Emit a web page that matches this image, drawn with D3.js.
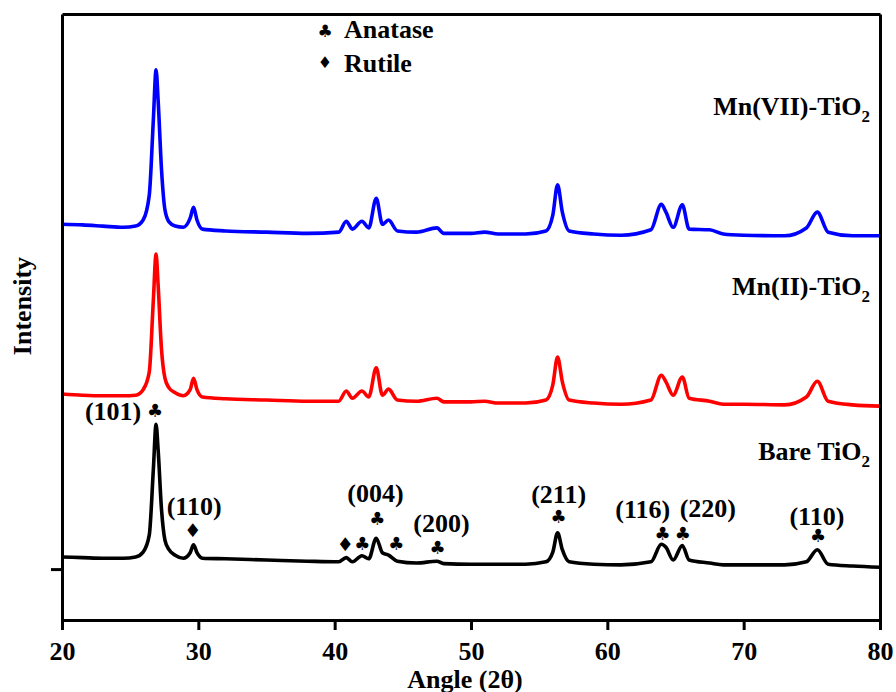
<!DOCTYPE html>
<html>
<head>
<meta charset="utf-8">
<script src="https://cdn.jsdelivr.net/npm/d3@7"></script>
<style>
  body { margin: 0; background: #fff; }
  text { font-family: "Liberation Serif", "Times New Roman", serif; font-weight: bold; }
</style>
</head>
<body>
<svg id="drawing_region"></svg>
<script>
var width = 896;
var height = 692;
var margin = {top:14, right:16, bottom:72, left:62};

// 2theta positions shared by the three patterns
const angles = [20.0, 21.5, 23.0, 24.5, 25.4, 25.95, 26.4, 26.7, 26.9, 27.05,
  27.3, 27.55, 27.85, 28.3, 28.9, 29.4, 29.65, 29.9, 30.3, 32,
  35, 38, 40.3, 40.85, 41.3, 42.0, 42.5, 43.05, 43.5, 43.95,
  44.6, 46, 47.5, 48, 50, 51, 52, 54, 55.5, 56.0,
  56.35, 56.7, 57.2, 59, 61, 63.2, 63.96, 64.3, 64.83, 65.5,
  66.0, 67.5, 68.5, 70, 73, 74.6, 75.4, 76.2, 78, 80];

// intensities (a.u., already stacked)
const bareTiO2 = [104, 103, 102, 102, 104, 112, 140, 248, 323, 281,
  182, 132, 116, 107, 102, 111, 124, 111, 102, 101,
  99, 97, 96, 103, 96, 106, 101, 135, 111, 107,
  97, 94, 97, 93, 92, 92, 92, 92, 96, 112,
  144, 116, 96, 92, 91, 96, 125, 120, 99, 123,
  99, 94, 91, 91, 91, 96, 116, 92, 89, 87];

const mn2TiO2 = [373, 371, 370, 370, 371, 380, 409, 528, 604, 553,
  446, 399, 383, 375, 370, 380, 399, 380, 368, 365,
  363, 361, 361, 378, 366, 378, 368, 416, 371, 381,
  363, 361, 366, 360, 360, 361, 358, 358, 363, 388,
  434, 393, 363, 358, 356, 363, 404, 393, 371, 401,
  366, 361, 356, 356, 355, 368, 394, 361, 355, 353];

const mn7TiO2 = [653, 652, 650, 648, 650, 660, 701, 825, 908, 858,
  743, 677, 657, 650, 648, 663, 681, 660, 645, 642,
  640, 638, 640, 658, 645, 658, 647, 696, 653, 660,
  642, 640, 647, 638, 638, 640, 637, 637, 642, 668,
  718, 673, 642, 637, 635, 644, 686, 673, 648, 685,
  645, 644, 637, 635, 634, 647, 673, 640, 634, 634];

const seriesNames = ["Bare TiO", "Mn(II)-TiO", "Mn(VII)-TiO"];
const seriesColors = ["#000000", "#ff0000", "#0000ff"];
const xTicks = [20, 30, 40, 50, 60, 70, 80];

// phase markers on the bare pattern: [phase, angle, intensity]
const markers = [
  ["A", 26.83, 345], ["R", 29.6, 149], ["R", 40.78, 125], ["A", 42.03, 127],
  ["A", 43.13, 167], ["A", 44.53, 127], ["A", 47.54, 119], ["A", 56.43, 170],
  ["A", 64.06, 142], ["A", 65.53, 142], ["A", 75.45, 139]
];
// plane labels: [hkl, angle, intensity]
const planes = [
  ["(101)", 23.75, 330], ["(110)", 29.69, 173], ["(004)", 42.99, 195],
  ["(200)", 47.83, 145], ["(211)", 56.43, 193], ["(116)", 62.6, 168],
  ["(220)", 67.37, 170], ["(110)", 75.37, 157]
];

var svg = d3.select('#drawing_region')
      .attr('width', width)
      .attr('height', height);

var chart = svg.append('g')
      .attr('transform', `translate(${margin.left}, ${margin.top})`);

const innerWidth = width - margin.left - margin.right;
const innerHeight = height - margin.top - margin.bottom;

const xscale = d3.scaleLinear().domain([20, 80]).range([0, innerWidth]);
const yscale = d3.scaleLinear().domain([0, 1000]).range([innerHeight, 0]);

const line = d3.line()
      .x((d, i) => xscale(angles[i]))
      .y(d => yscale(d))
      .curve(d3.curveMonotoneX);

[bareTiO2, mn2TiO2, mn7TiO2].forEach((s, k) => {
  chart.append('path')
        .attr('d', line(s))
        .attr('stroke', seriesColors[k])
        .attr('stroke-width', 3.6)
        .attr('stroke-linejoin', 'round')
        .attr('fill', 'none');
});

// axes + frame
const xAxis = d3.axisBottom(xscale).tickValues(xTicks).tickFormat(d3.format('d'))
      .tickSize(10).tickSizeOuter(0).tickPadding(12);
const yAxis = d3.axisLeft(yscale).tickValues([84]).tickFormat('')
      .tickSize(11).tickSizeOuter(0);

const gx = chart.append('g').attr('transform', `translate(0, ${innerHeight})`).call(xAxis);
const gy = chart.append('g').call(yAxis);
chart.append('g').call(d3.axisTop(xscale).tickValues([]).tickSizeOuter(0));
chart.append('g').attr('transform', `translate(${innerWidth}, 0)`)
      .call(d3.axisRight(yscale).tickValues([]).tickSizeOuter(0));

chart.selectAll('.domain').attr('stroke-width', 3).attr('stroke', '#000');
chart.selectAll('.tick line').attr('stroke-width', 3).attr('stroke', '#000');
gx.selectAll('text').attr('font-size', 26).attr('fill', '#000')
      .style('font-family', '"Liberation Serif", serif').style('font-weight', 'bold');

svg.append('text')
      .attr('x', margin.left + xscale(50) - 6)
      .attr('y', 688)
      .attr('text-anchor', 'middle')
      .attr('font-size', 26)
      .text('Angle (2θ)');

svg.append('text')
      .attr('transform', 'translate(31, 306) rotate(-90)')
      .attr('text-anchor', 'middle')
      .attr('font-size', 26)
      .text('Intensity');

// series labels
const labelY = [460, 295, 115];
seriesNames.forEach((n, k) => {
  const t = svg.append('text')
        .attr('x', 870)
        .attr('y', labelY[k])
        .attr('text-anchor', 'end')
        .attr('font-size', 26);
  t.append('tspan').text(n);
  t.append('tspan').attr('font-size', 17).attr('dy', 7).text('2');
});

// legend
const legend = svg.append('g');
legend.append('text').attr('x', 325).attr('y', 31).attr('text-anchor', 'middle')
      .attr('dominant-baseline', 'central')
      .style('font-family', '"DejaVu Sans", sans-serif').attr('font-size', 17).text('\u2663');
legend.append('text').attr('x', 325).attr('y', 62).attr('text-anchor', 'middle')
      .attr('dominant-baseline', 'central')
      .style('font-family', '"DejaVu Sans", sans-serif').attr('font-size', 16).text('\u2666');
legend.append('text').attr('x', 344).attr('y', 38).attr('font-size', 26).text('Anatase');
legend.append('text').attr('x', 344).attr('y', 72).attr('font-size', 26).text('Rutile');

// peak markers and plane labels
chart.selectAll('.marker')
      .data(markers)
      .enter()
      .append('text')
      .attr('class', 'marker')
      .attr('x', d => xscale(d[1]))
      .attr('y', d => yscale(d[2]))
      .attr('text-anchor', 'middle')
      .attr('dominant-baseline', 'central')
      .style('font-family', '"DejaVu Sans", sans-serif')
      .attr('font-size', d => d[0] === 'A' ? 18 : 19)
      .text(d => d[0] === 'A' ? '\u2663' : '\u2666');

chart.selectAll('.plane')
      .data(planes)
      .enter()
      .append('text')
      .attr('class', 'plane')
      .attr('x', d => xscale(d[1]))
      .attr('y', d => yscale(d[2]))
      .attr('text-anchor', 'middle')
      .attr('font-size', 26)
      .text(d => d[0]);
</script>
</body>
</html>
